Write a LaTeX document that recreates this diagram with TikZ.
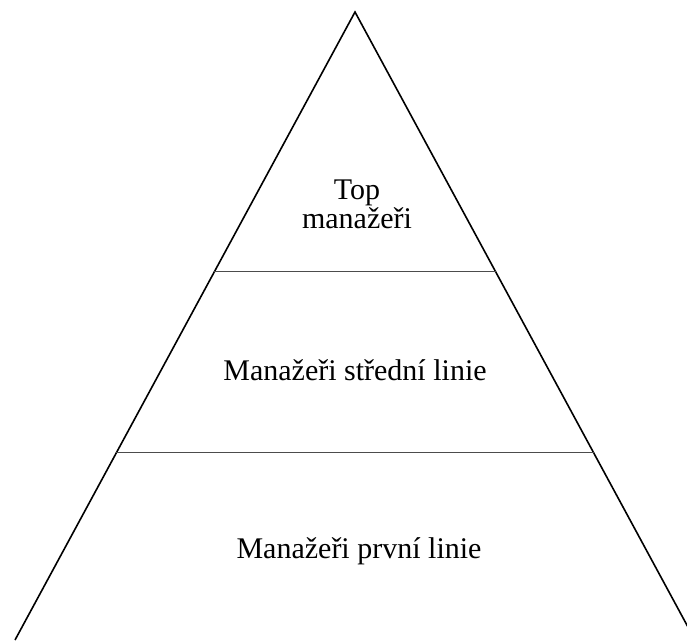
\documentclass[tikz,border=0pt]{standalone}
\usepackage{fontspec}
\setmainfont{Liberation Serif}
\usetikzlibrary{calc}
\tikzset{
  side/.style={line width=1.6pt, black},
  level/.style={line width=1pt, black!70},
  label/.style={font=\fontsize{30}{27}\selectfont, inner sep=0pt, align=center, anchor=base}
}
\begin{document}
\begin{tikzpicture}[x=1pt,y=-1pt]
  \useasboundingbox (0,0) rectangle (687,640);
  % Vrchol a zakladna
  \coordinate (apex) at (355,12);
  \coordinate (baseL) at (15,640);
  \coordinate (baseR) at (695,640);

  % Trojuhelnik (zakladna mimo obrazek)
  \begin{scope}
    \clip (0,0) rectangle (687,640);
    \draw[side] (baseL) -- (apex) -- (baseR);
  \end{scope}

  % Delici cary
  \draw[level] ($(apex)!0.414!(baseL)$) -- ($(apex)!0.414!(baseR)$);
  \draw[level] ($(apex)!0.702!(baseL)$) -- ($(apex)!0.702!(baseR)$);

  % Urovne
  \node[label] (top) at (357,228) {Top\\manažeři};
  \node[label] (middle) at (355,380) {Manažeři střední linie};
  \node[label] (first) at (359,558) {Manažeři první linie};
\end{tikzpicture}
\end{document}
